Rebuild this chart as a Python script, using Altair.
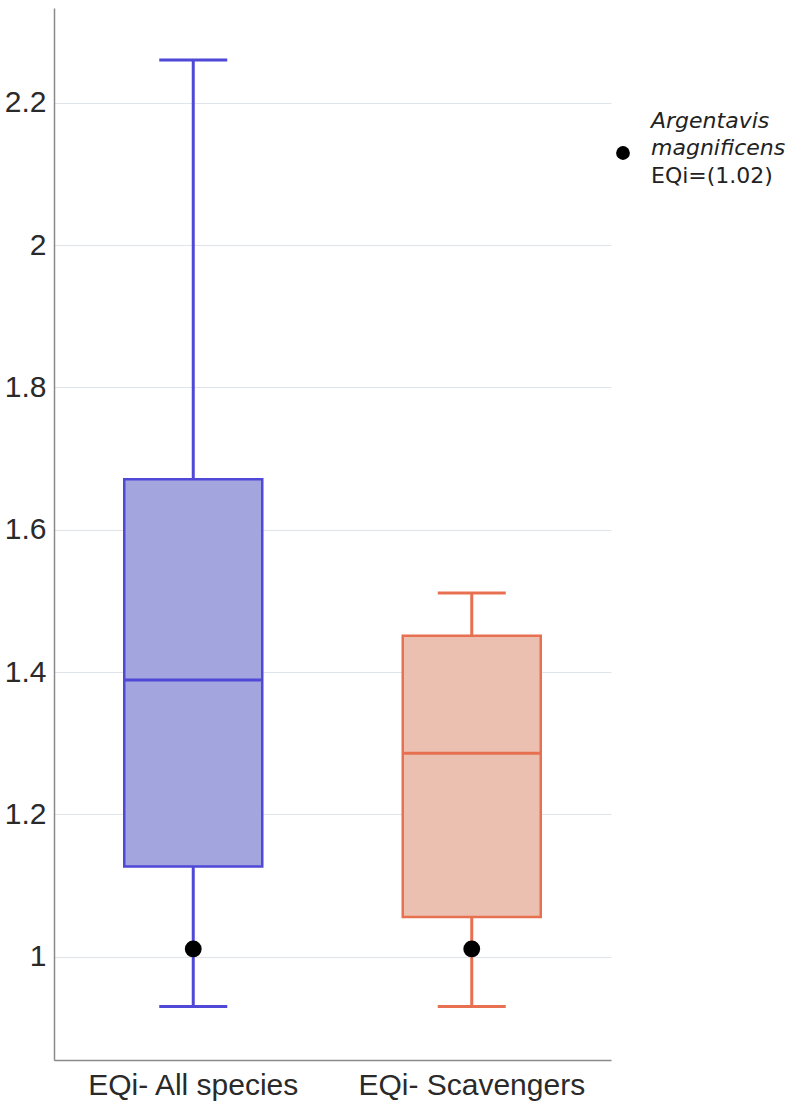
import altair as alt
import pandas as pd

categories = ["EQi- All species", "EQi- Scavengers"]
whisker_low = [0.93, 0.93]
q1 = [1.127, 1.056]
median = [1.389, 1.286]
q3 = [1.671, 1.451]
whisker_high = [2.26, 1.511]
argentavis = [1.011, 1.011]

y_ticks = [1, 1.2, 1.4, 1.6, 1.8, 2, 2.2]
stroke_colors = ["#5048d6", "#e6704f"]
fill_colors = ["#a3a6de", "#ecc0b1"]

df = pd.DataFrame({
    "cat": categories,
    "low": whisker_low,
    "q1": q1,
    "median": median,
    "q3": q3,
    "high": whisker_high,
    "pt": argentavis,
})

W, H = 557, 1052
x_enc = alt.X("cat:N", sort=categories, title=None,
              scale=alt.Scale(paddingInner=0, paddingOuter=0),
              axis=alt.Axis(labelAngle=0, labelFont="Liberation Sans", labelFontSize=30,
                            labelColor="#2a2a2a", labelPadding=10, ticks=False, labelLimit=0,
                            domainColor="#8a8a8a", domainWidth=1.5, grid=False))
yscale = alt.Scale(domain=[0.855, 2.333], nice=False, zero=False)
y_axis = alt.Axis(values=y_ticks, format="~g", labelFont="Liberation Sans", labelFontSize=30,
                  labelColor="#2a2a2a", labelPadding=8, ticks=False,
                  domainColor="#8a8a8a", domainWidth=1.5,
                  grid=True, gridColor="#dfe4ea", gridWidth=1.2)
stroke_scale = alt.Scale(domain=categories, range=stroke_colors)
fill_scale = alt.Scale(domain=categories, range=fill_colors)

base = alt.Chart(df).encode(x=x_enc)

whisk = base.mark_rule(strokeWidth=3).encode(
    y=alt.Y("low:Q", scale=yscale, axis=y_axis, title=None),
    y2="high:Q",
    color=alt.Color("cat:N", scale=stroke_scale, legend=None),
)
box = base.mark_bar(size=138, strokeWidth=2.5, opacity=1).encode(
    y=alt.Y("q1:Q", scale=yscale),
    y2="q3:Q",
    fill=alt.Fill("cat:N", scale=fill_scale, legend=None),
    stroke=alt.Stroke("cat:N", scale=stroke_scale, legend=None),
)
med = base.mark_tick(size=138, thickness=3, opacity=1).encode(
    y=alt.Y("median:Q", scale=yscale),
    color=alt.Color("cat:N", scale=stroke_scale, legend=None),
)
cap_hi = base.mark_tick(size=68, thickness=3, opacity=1).encode(
    y=alt.Y("high:Q", scale=yscale),
    color=alt.Color("cat:N", scale=stroke_scale, legend=None),
)
cap_lo = base.mark_tick(size=68, thickness=3, opacity=1).encode(
    y=alt.Y("low:Q", scale=yscale),
    color=alt.Color("cat:N", scale=stroke_scale, legend=None),
)
pts = base.mark_point(filled=True, color="black", opacity=1, size=283).encode(
    y=alt.Y("pt:Q", scale=yscale),
)

ann_df = pd.DataFrame({"k": [0]})
ann_dot = alt.Chart(ann_df).mark_point(filled=True, color="black", opacity=1, size=190, clip=False).encode(
    x=alt.value(569), y=alt.value(145))
ann_it = alt.Chart(ann_df).mark_text(
    font="DejaVu Sans", fontSize=22, fontStyle="italic", align="left", baseline="alphabetic",
    lineHeight=27, color="#222222", clip=False
).encode(x=alt.value(597), y=alt.value(120), text=alt.value(["Argentavis", "magnificens"]))
ann_tx = alt.Chart(ann_df).mark_text(
    font="DejaVu Sans", fontSize=22, align="left", baseline="alphabetic",
    color="#222222", clip=False
).encode(x=alt.value(597), y=alt.value(175), text=alt.value("EQi=(1.02)"))

chart = alt.layer(whisk, box, med, cap_hi, cap_lo, pts, ann_dot, ann_it, ann_tx).properties(
    width=W, height=H,
    background="white",
    autosize=alt.AutoSizeParams(type="none"),
    padding={"left": 54, "top": 8, "right": 189, "bottom": 51},
).configure_view(stroke="transparent", strokeWidth=0)

chart.save("out.html", embed_options={"renderer": "svg", "actions": False})
